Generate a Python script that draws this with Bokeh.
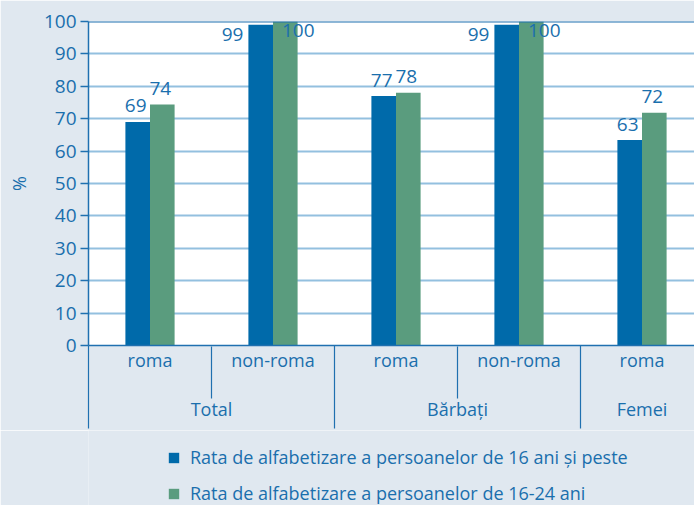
from bokeh.plotting import figure
from bokeh.layouts import column
from bokeh.models import Range1d, FixedTicker, LinearAxis, Legend, LegendItem, Span, ColumnDataSource
from bokeh.core.properties import value
from bokeh.embed import file_html
from bokeh.resources import INLINE

# ---- data ----
groups = ["Total", "Total", "Bărbați", "Bărbați", "Femei"]
subgroups = ["roma", "non-roma", "roma", "non-roma", "roma"]
series_names = ["Rata de alfabetizare a persoanelor de 16 ani și peste",
                "Rata de alfabetizare a persoanelor de 16-24 ani"]
rate_16_plus = [69, 99, 77, 99, 63.4]
rate_16_24 = [74.4, 100, 78, 100, 71.8]
y_ticks = [0, 10, 20, 30, 40, 50, 60, 70, 80, 90, 100]
y_label = "%"

# ---- style ----
FONT = value("Open Sans")
BG = "#e0e8f0"
TXT = "#1a6fad"
AXIS = "#1f70b0"
GRID = "#93c0df"
BLUE = "#006aaa"
GREEN = "#5a9c7e"

W = 694
H_CHART, H_LEG = 430, 75
LEFT, TOP = 88, 21
CAT_PX = 123
PLOT_H = 324
LEGEND_X = 167
x_end = (W - LEFT) / CAT_PX
y_max = y_ticks[-1]

p = figure(width=W, height=H_CHART, output_backend="svg", toolbar_location=None,
           x_range=Range1d(0, x_end), y_range=Range1d(0, y_max),
           x_axis_location=None,
           min_border_left=LEFT, min_border_top=TOP, min_border_right=0,
           min_border_bottom=H_CHART - TOP - PLOT_H)
p.background_fill_color = "white"
p.border_fill_color = BG
p.outline_line_color = None
p.xgrid.visible = False
p.ygrid.grid_line_color = GRID
p.ygrid.grid_line_width = 2
p.ygrid.ticker = FixedTicker(ticks=y_ticks)

# y axis
ya = p.yaxis[0]
ya.ticker = FixedTicker(ticks=y_ticks)
ya.axis_label = y_label
ya.axis_label_text_font = "Open Sans"
ya.axis_label_text_font_style = "normal"
ya.axis_label_text_font_size = "18px"
ya.axis_label_text_color = TXT
ya.axis_label_standoff = 10
ya.major_label_text_font = "Open Sans"
ya.major_label_text_font_size = "19px"
ya.major_label_text_color = TXT
ya.major_label_standoff = 4
ya.axis_line_color = AXIS
ya.axis_line_width = 1.5
ya.major_tick_line_color = AXIS
ya.major_tick_line_width = 1.5
ya.major_tick_in = 0
ya.major_tick_out = 8
ya.minor_tick_line_color = None

p.add_layout(Span(location=y_max, dimension="width", line_color=AXIS, line_width=2))

# bars
n = len(subgroups)
centers = [i + 0.5 for i in range(n)]
bw = 0.2
src = ColumnDataSource(dict(
    xb=[c - bw / 2 for c in centers], xg=[c + bw / 2 for c in centers],
    a=rate_16_plus, b=rate_16_24))
r1 = p.vbar(x="xb", top="a", width=bw, source=src, fill_color=BLUE, line_color=None)
r2 = p.vbar(x="xg", top="b", width=bw, source=src, fill_color=GREEN, line_color=None)

# value labels
def lab_sets(xs, vals):
    normal = dict(x=[], y=[], t=[])
    high = dict(x=[], y=[], t=[])
    for x, v in zip(xs, vals):
        d = high if v >= 98.5 else normal
        d["x"].append(x); d["y"].append(v); d["t"].append(f"{round(v)}")
    return normal, high

nb, hb = lab_sets(src.data["xb"], rate_16_plus)
ng, hg = lab_sets(src.data["xg"], rate_16_24)
common = dict(text_font=FONT, text_font_size="19px", text_color=TXT, text_baseline="alphabetic")
p.text(x=nb["x"] + ng["x"], y=nb["y"] + ng["y"], text=nb["t"] + ng["t"],
       text_align="center", x_offset=-2, y_offset=-16, **common)
p.text(x=[x - bw / 2 for x in hb["x"]], y=hb["y"], text=hb["t"],
       text_align="right", x_offset=-5, y_offset=10, **common)
p.text(x=[x - bw / 2 for x in hg["x"]], y=hg["y"], text=hg["t"],
       text_align="left", x_offset=9, y_offset=9, **common)

# category axes
group_bounds = [0.0]
sub_bounds = []
for i in range(1, n):
    if groups[i] != groups[i - 1]:
        group_bounds.append(float(i))
    else:
        sub_bounds.append(float(i))

g_names = []
for g in groups:
    if g not in g_names:
        g_names.append(g)
g_centers = []
for g in g_names:
    idx = [i for i, gg in enumerate(groups) if gg == g]
    g_centers.append((min(idx) + max(idx) + 1) / 2)

cat = LinearAxis(ticker=FixedTicker(ticks=centers, minor_ticks=group_bounds),
                 major_label_overrides={c: s for c, s in zip(centers, subgroups)})
cat.axis_line_color = AXIS
cat.axis_line_width = 1.5
cat.major_tick_line_color = None
cat.major_tick_in = 0
cat.major_tick_out = 0
cat.minor_tick_line_color = AXIS
cat.minor_tick_line_width = 1.2
cat.minor_tick_in = -83
cat.minor_tick_out = 0
cat.major_label_standoff = 2

grp = LinearAxis(ticker=FixedTicker(ticks=g_centers, minor_ticks=sub_bounds),
                 major_label_overrides={c: s for c, s in zip(g_centers, g_names)})
grp.axis_line_color = None
grp.major_tick_line_color = None
grp.major_tick_in = 0
grp.major_tick_out = 0
grp.minor_tick_line_color = AXIS
grp.minor_tick_line_width = 1.2
grp.minor_tick_in = 28
grp.minor_tick_out = 24
grp.major_label_standoff = -2

for ax in (cat, grp):
    ax.major_label_text_font = "Open Sans"
    ax.major_label_text_font_size = "18px"
    ax.major_label_text_color = TXT
    p.add_layout(ax, "below")

# legend strip under the chart (same data, renderers hidden; only their legend swatches show)
p2 = figure(width=W, height=H_LEG, output_backend="svg", toolbar_location=None,
            x_range=Range1d(0, 1), y_range=Range1d(0, 1),
            x_axis_location=None, y_axis_location=None,
            min_border_left=0, min_border_right=0, min_border_top=0, min_border_bottom=0)
p2.background_fill_color = BG
p2.background_fill_alpha = 1
p2.border_fill_color = BG
p2.outline_line_color = None
p2.grid.visible = False
l1 = p2.vbar(x="xb", top="a", width=bw, source=src, fill_color=BLUE, line_color=None, visible=False)
l2 = p2.vbar(x="xg", top="b", width=bw, source=src, fill_color=GREEN, line_color=None, visible=False)
legend = Legend(items=[LegendItem(label=series_names[0], renderers=[l1]),
                       LegendItem(label=series_names[1], renderers=[l2])],
                location=(LEGEND_X - LEFT, 0), orientation="vertical",
                glyph_width=13, glyph_height=13, label_standoff=10, spacing=12,
                padding=0, margin=0, border_line_color=None, background_fill_alpha=0,
                inactive_fill_alpha=0,
                label_text_font="Open Sans", label_text_font_size="18px",
                label_text_color=TXT)
p2.add_layout(legend)

open("out.html", "w").write(file_html(column(p, p2), INLINE))
